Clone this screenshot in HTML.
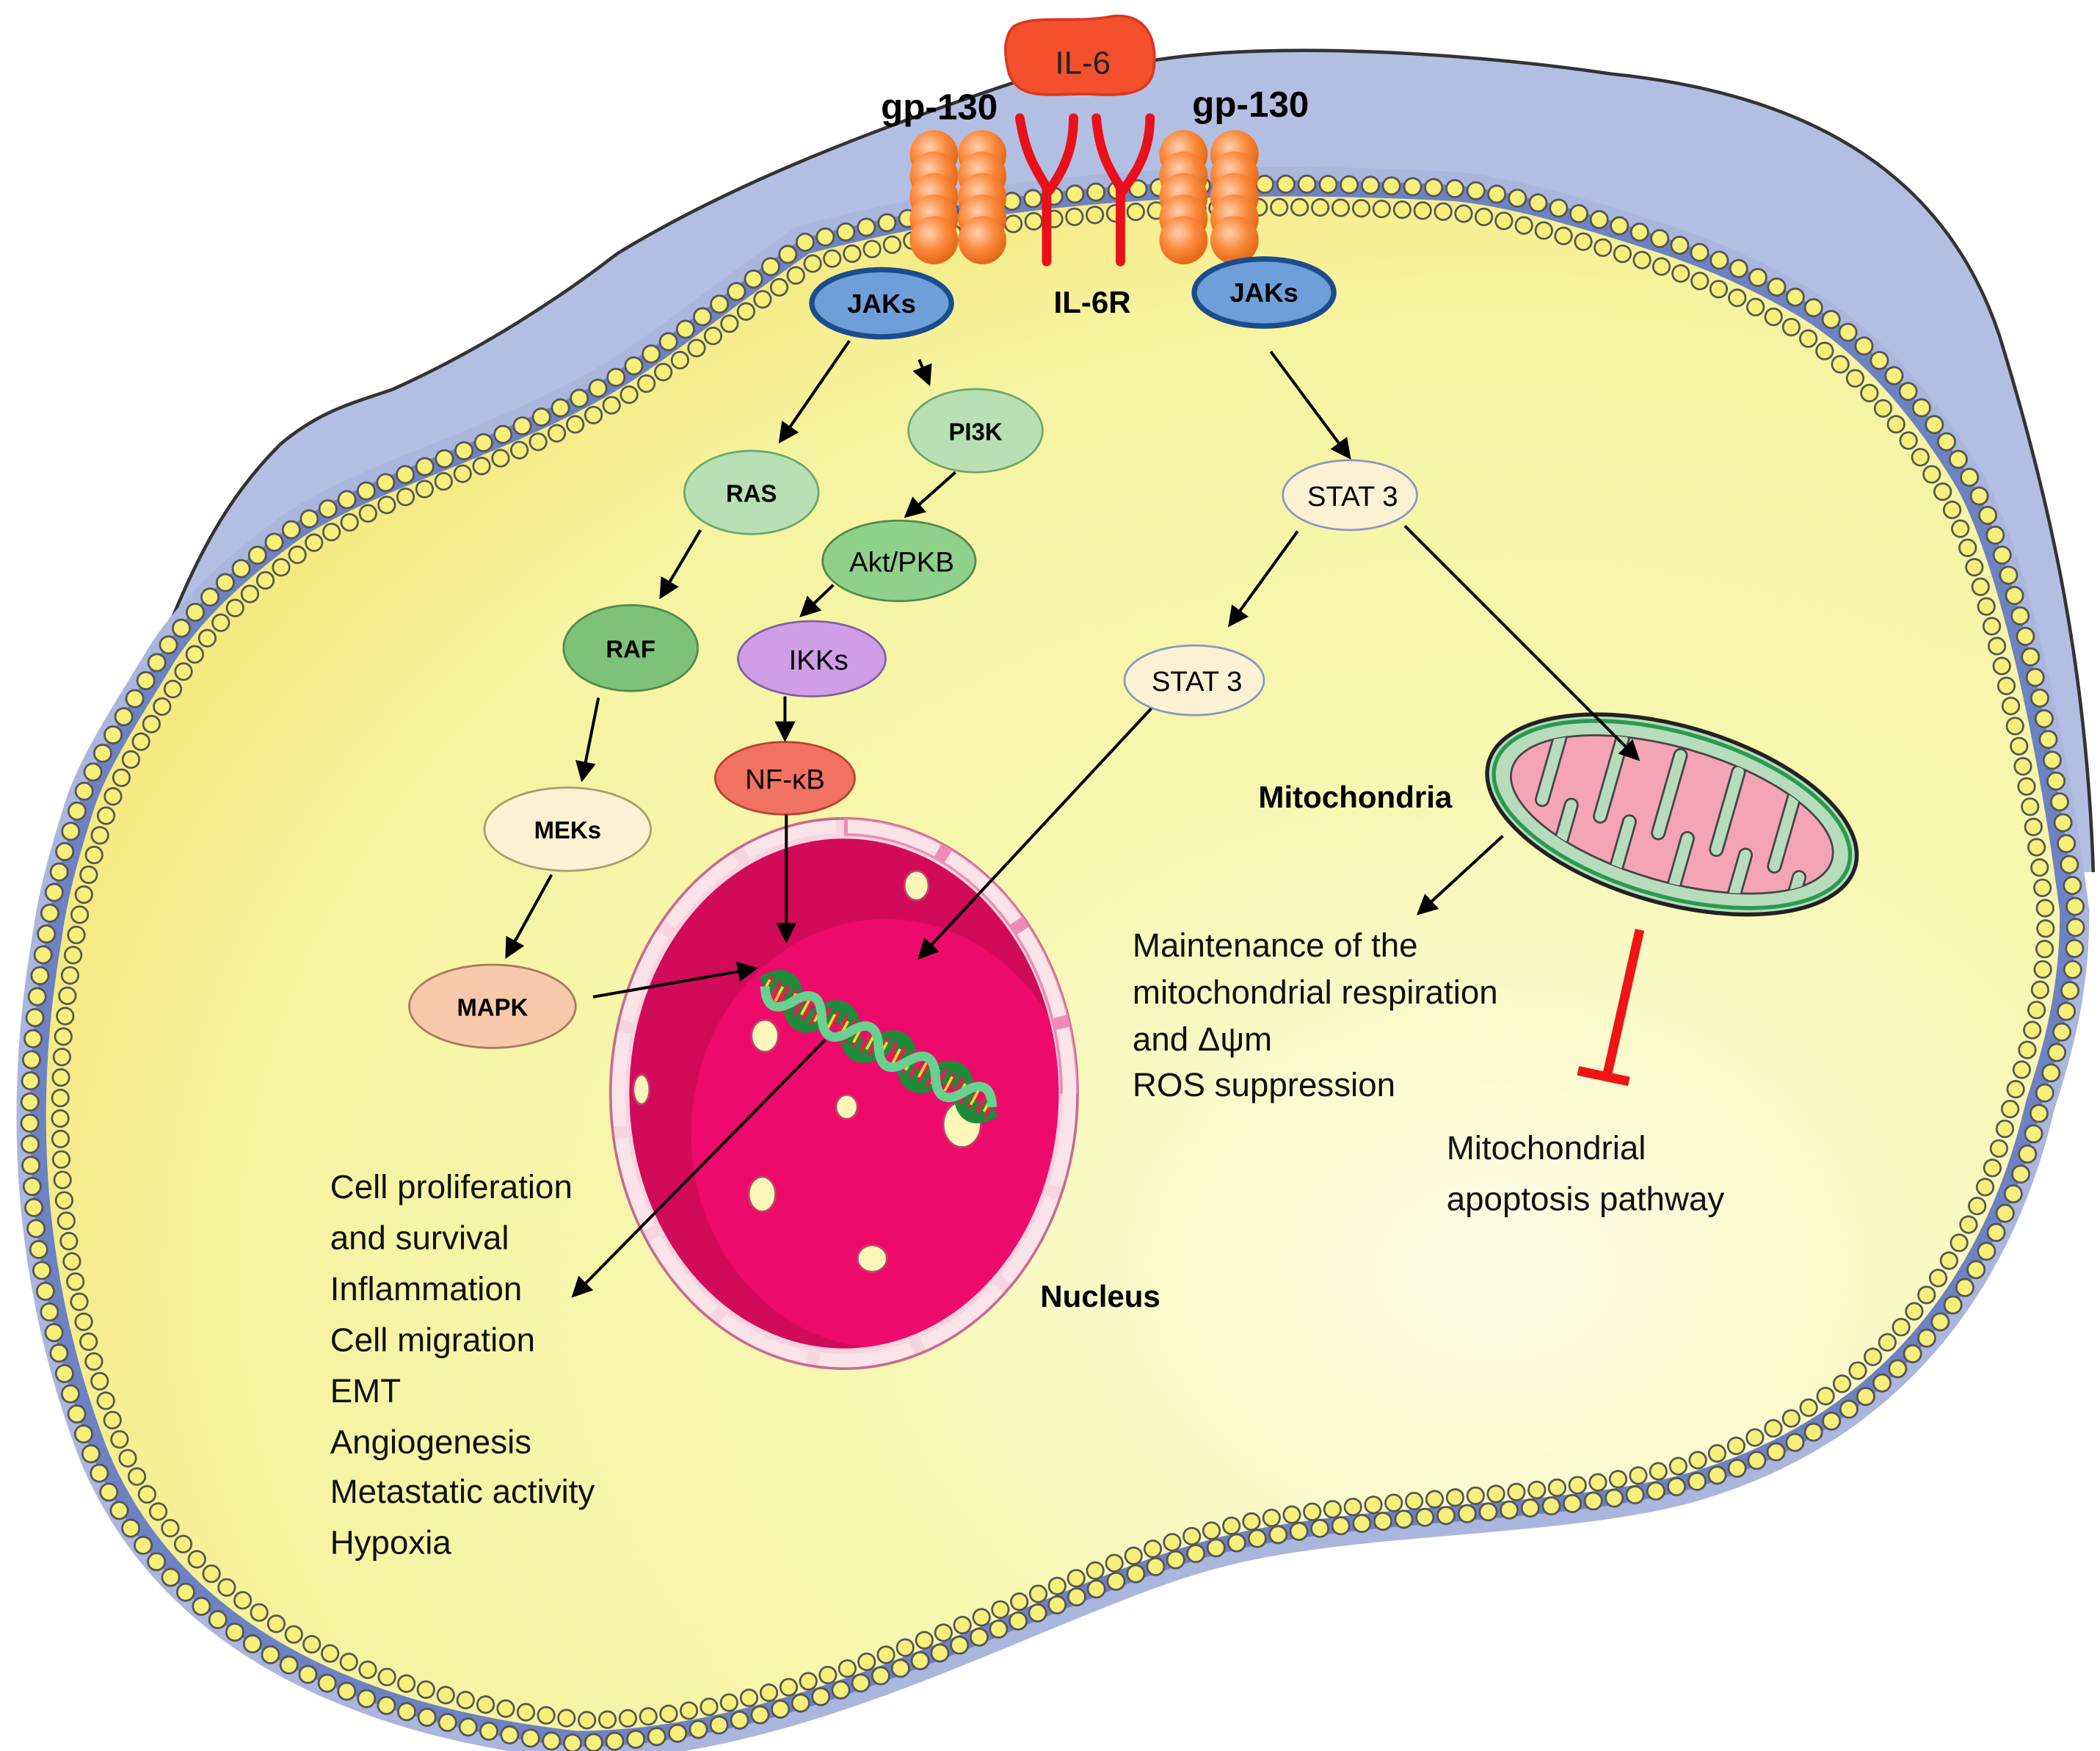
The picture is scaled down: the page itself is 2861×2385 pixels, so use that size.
<!DOCTYPE html>
<html><head><meta charset="utf-8"><style>
html,body{margin:0;padding:0;background:#fff;}
svg{display:block;}
text{font-family:"Liberation Sans",sans-serif;}
</style></head><body>
<svg width="2861" height="2385" viewBox="0 0 1565 1305" preserveAspectRatio="none" xmlns="http://www.w3.org/2000/svg">
<defs>
<radialGradient id="cyto" cx="0.72" cy="0.7" r="0.75">
<stop offset="0" stop-color="#fcfce6"/><stop offset="0.45" stop-color="#f7f7b0"/><stop offset="0.85" stop-color="#f6f3a0"/><stop offset="1" stop-color="#f4ea80"/></radialGradient>
<radialGradient id="orb" cx="0.4" cy="0.35" r="0.7"><stop offset="0" stop-color="#ffd0b0"/><stop offset="0.5" stop-color="#fb8a3c"/><stop offset="1" stop-color="#e0600f"/></radialGradient>
<marker id="ar" viewBox="0 0 10 10" refX="8" refY="5" markerWidth="7" markerHeight="7" orient="auto"><path d="M0,0 L10,5 L0,10 z" fill="#000"/></marker>
<path id="mem" d="M 603,189 C 530,240 490,275 444,300 C 360,345 280,365 226,400 C 170,440 140,475 126,500 C 95,550 80,575 71,600 C 58,640 50,670 46,700 C 25,820 30,950 80,1080 C 130,1200 250,1270 430,1290 C 600,1290 780,1180 900,1148 C 1000,1120 1150,1125 1250,1100 C 1400,1060 1480,950 1510,820 C 1530,760 1535,720 1535,680 C 1520,560 1490,420 1458,363 C 1420,300 1380,260 1341,236 C 1300,212 1270,200 1241,190 C 1180,170 1130,155 1085,150 C 900,140 750,150 603,189 Z"/>
<clipPath id="nucclip"><ellipse cx="629" cy="815" rx="160" ry="190"/></clipPath>
<clipPath id="mitclip"><ellipse cx="1246" cy="607" rx="124" ry="50"/></clipPath>
</defs>
<rect width="1565" height="1305" fill="#fff"/>
<path d="M 60,640 C 80,580 95,550 105,524 C 140,420 170,370 209,331 C 240,305 265,300 293,290 C 360,260 420,220 460,189 C 540,140 640,100 760,60 C 800,50 830,45 860,45 C 950,30 1100,40 1200,55 C 1350,70 1450,130 1490,250 C 1530,380 1555,500 1560,650 L 1300,650 L 300,650 Z" fill="#b3bfe2"/>
<path d="M 60,640 C 80,580 95,550 105,524 C 140,420 170,370 209,331 C 240,305 265,300 293,290 C 360,260 420,220 460,189 C 540,140 640,100 760,60 C 800,50 830,45 860,45 C 950,30 1100,40 1200,55 C 1350,70 1450,130 1490,250 C 1530,380 1555,500 1560,650" fill="none" stroke="#333" stroke-width="2.5"/>
<use href="#mem" fill="none" stroke="#aab6de" stroke-width="44"/>
<use href="#mem" fill="none" stroke="#6d82c2" stroke-width="24"/>
<use href="#mem" fill="url(#cyto)"/>
<g>
<use href="#mem" fill="none" stroke="#555" stroke-width="14" stroke-dasharray="0 15.5" stroke-linecap="round" transform="translate(790,720) scale(1.016) translate(-790,-720)"/>
<use href="#mem" fill="none" stroke="#f6ef7a" stroke-width="11" stroke-dasharray="0 15.5" stroke-linecap="round" transform="translate(790,720) scale(1.016) translate(-790,-720)"/>
<use href="#mem" fill="none" stroke="#555" stroke-width="14" stroke-dasharray="0 15.5" stroke-linecap="round" transform="translate(790,720) scale(0.986) translate(-790,-720)"/>
<use href="#mem" fill="none" stroke="#f6ef7a" stroke-width="11" stroke-dasharray="0 15.5" stroke-linecap="round" transform="translate(790,720) scale(0.986) translate(-790,-720)"/>
</g>
<g>
<g id="col"><circle cx="696" cy="115" r="18" fill="url(#orb)"/><circle cx="696" cy="131" r="18" fill="url(#orb)"/><circle cx="696" cy="147" r="18" fill="url(#orb)"/><circle cx="696" cy="163" r="18" fill="url(#orb)"/><circle cx="696" cy="179" r="18" fill="url(#orb)"/></g>
<use href="#col" x="36"/><use href="#col" x="186"/><use href="#col" x="224"/>
<path d="M760,88 C765,120 775,130 780,140 L780,195 M800,88 C800,115 790,130 782,142" fill="none" stroke="#e8101a" stroke-width="7" stroke-linecap="round"/>
<path d="M817,88 C820,120 830,130 835,140 L835,195 M857,88 C857,115 845,130 837,142" fill="none" stroke="#e8101a" stroke-width="7" stroke-linecap="round"/>
<path d="M755,20 C770,10 800,18 830,12 C855,10 862,30 860,50 C858,70 840,72 810,70 C780,70 760,75 752,55 C748,40 748,28 755,20 Z" fill="#f4502e" stroke="#d83820" stroke-width="2"/>
<text x="807" y="55" font-size="24" text-anchor="middle" fill="#222">IL-6</text>
<text x="700" y="89" font-size="27" font-weight="bold" text-anchor="middle">gp-130</text>
<text x="932" y="87" font-size="27" font-weight="bold" text-anchor="middle">gp-130</text>
<text x="814" y="233" font-size="23" font-weight="bold" text-anchor="middle">IL-6R</text>
</g>
<g font-size="20" text-anchor="middle">
<ellipse cx="657" cy="226" rx="52" ry="25" fill="#6f9fd8" stroke="#1c4c8c" stroke-width="4"/><text x="657" y="233" font-weight="bold">JAKs</text>
<ellipse cx="942" cy="218" rx="52" ry="25" fill="#6f9fd8" stroke="#1c4c8c" stroke-width="4"/><text x="942" y="225" font-weight="bold">JAKs</text>
<ellipse cx="727" cy="321" rx="50" ry="31" fill="#b8e0b4" stroke="#6aa868" stroke-width="1.5"/><text x="727" y="328" font-size="18" font-weight="bold">PI3K</text>
<ellipse cx="560" cy="367" rx="50" ry="31" fill="#b8e0b4" stroke="#6aa868" stroke-width="1.5"/><text x="560" y="374" font-size="18" font-weight="bold">RAS</text>
<ellipse cx="670" cy="418" rx="57" ry="30" fill="#8fd08a" stroke="#4f8a4c" stroke-width="1.5"/><text x="672" y="426" font-size="21">Akt/PKB</text>
<ellipse cx="470" cy="483" rx="50" ry="32" fill="#7dc278" stroke="#4f8a4c" stroke-width="1.5"/><text x="470" y="490" font-size="18" font-weight="bold">RAF</text>
<ellipse cx="605" cy="491" rx="55" ry="28" fill="#cf9ee6" stroke="#8060a0" stroke-width="1.5"/><text x="610" y="499" font-size="21">IKKs</text>
<ellipse cx="585" cy="580" rx="52" ry="27" fill="#f27262" stroke="#b84030" stroke-width="1.5"/><text x="585" y="588" font-size="21">NF-κB</text>
<ellipse cx="423" cy="618" rx="62" ry="31" fill="#fdf1d4" stroke="#a89c70" stroke-width="1.5"/><text x="423" y="625" font-size="18" font-weight="bold">MEKs</text>
<ellipse cx="367" cy="750" rx="62" ry="31" fill="#f8c8aa" stroke="#a87860" stroke-width="1.5"/><text x="367" y="757" font-size="18" font-weight="bold">MAPK</text>
<ellipse cx="1006" cy="369" rx="50" ry="26" fill="#fdf1d4" stroke="#8898c0" stroke-width="1.5"/><text x="1008" y="377" font-size="21">STAT 3</text>
<ellipse cx="890" cy="507" rx="52" ry="26" fill="#fdf1d4" stroke="#8898c0" stroke-width="1.5"/><text x="892" y="515" font-size="21">STAT 3</text>
</g>
<g>
<ellipse cx="629" cy="815" rx="174" ry="205" fill="#f8d4e0" stroke="#c86a90" stroke-width="2"/>
<path d="M629,610 A174,205 0 0,1 803,815 L790,815 A160,192 0 0,0 629,623 Z" fill="#ee8ab4"/>
<ellipse cx="629" cy="815" rx="168" ry="199" fill="none" stroke="#fbe3ea" stroke-width="10" stroke-dasharray="70 9"/>
<ellipse cx="629" cy="815" rx="160" ry="190" fill="#d20a5a"/>
<g clip-path="url(#nucclip)"><ellipse cx="660" cy="845" rx="145" ry="160" fill="#ee0a6a"/></g>
<ellipse cx="570" cy="772" rx="10" ry="12" fill="#fbf7b8" stroke="#c0406a" stroke-width="1.5"/>
<ellipse cx="683" cy="660" rx="9" ry="11" fill="#fbf7b8" stroke="#c0406a" stroke-width="1.5"/>
<ellipse cx="631" cy="825" rx="8" ry="9" fill="#fbf7b8" stroke="#c0406a" stroke-width="1.5"/>
<ellipse cx="717" cy="838" rx="14" ry="17" fill="#fbf7b8" stroke="#c0406a" stroke-width="1.5"/>
<ellipse cx="568" cy="890" rx="10" ry="13" fill="#fbf7b8" stroke="#c0406a" stroke-width="1.5"/>
<ellipse cx="650" cy="938" rx="11" ry="10" fill="#fbf7b8" stroke="#c0406a" stroke-width="1.5"/>
<ellipse cx="478" cy="812" rx="6" ry="11" fill="#fbf7b8" stroke="#c0406a" stroke-width="1.5"/>
<g transform="rotate(28 570 735)">
<path d="M570,735 q12,-20 24,0 t24,0 t24,0 t24,0 t24,0 t24,0 t24,0 t24,0" fill="none" stroke="#1e8a3a" stroke-width="16"/>
<path d="M570,735 h192" stroke="#e02050" stroke-width="18" stroke-dasharray="3 4"/>
<path d="M570,735 h192" stroke="#f0e020" stroke-width="12" stroke-dasharray="2 9"/>
<path d="M570,735 q12,20 24,0 t24,0 t24,0 t24,0 t24,0 t24,0 t24,0 t24,0" fill="none" stroke="#6ad090" stroke-width="7"/>
</g>
<text x="820" y="974" font-size="23" font-weight="bold" text-anchor="middle">Nucleus</text>
</g>
<g transform="rotate(16 1246 607)">
<ellipse cx="1246" cy="607" rx="142" ry="66" fill="#b6dcbc" stroke="#222" stroke-width="3"/>
<ellipse cx="1246" cy="607" rx="137" ry="61" fill="none" stroke="#2a9a50" stroke-width="3"/>
<ellipse cx="1246" cy="607" rx="124" ry="50" fill="#f4a4b2" stroke="#444" stroke-width="1.5"/>
<g clip-path="url(#mitclip)">
<path d="M1150,607 v-60 M1195,607 v-60 M1240,607 v-60 M1285,607 v-60 M1330,607 v-60 M1172,605 v60 M1217,605 v60 M1262,605 v60 M1307,605 v60 M1350,610 v60" stroke="#444" stroke-width="11" stroke-linecap="round" transform="translate(0,16)"/>
<path d="M1150,607 v-60 M1195,607 v-60 M1240,607 v-60 M1285,607 v-60 M1330,607 v-60 M1172,605 v60 M1217,605 v60 M1262,605 v60 M1307,605 v60 M1350,610 v60" stroke="#b6dcbc" stroke-width="8" stroke-linecap="round" transform="translate(0,16)"/>
</g>
</g>
<text x="1010" y="602" font-size="23" font-weight="bold" text-anchor="middle">Mitochondria</text>
<g stroke="#000" stroke-width="2.2" fill="none" marker-end="url(#ar)">
<line x1="633" y1="254" x2="582" y2="328"/>
<line x1="685" y1="268" x2="692" y2="285"/>
<line x1="712" y1="352" x2="676" y2="384"/>
<line x1="522" y1="395" x2="493" y2="444"/>
<line x1="621" y1="436" x2="598" y2="458"/>
<line x1="446" y1="520" x2="434" y2="580"/>
<line x1="585" y1="519" x2="585" y2="550"/>
<line x1="411" y1="652" x2="378" y2="712"/>
<line x1="586" y1="607" x2="586" y2="700"/>
<line x1="442" y1="743" x2="562" y2="722"/>
<line x1="947" y1="262" x2="1005" y2="340"/>
<line x1="967" y1="396" x2="917" y2="465"/>
<line x1="858" y1="528" x2="686" y2="713"/>
<line x1="1047" y1="392" x2="1220" y2="565"/>
<line x1="1120" y1="623" x2="1058" y2="680"/>
<line x1="615" y1="775" x2="428" y2="965"/>
</g>
<line x1="1222" y1="693" x2="1198" y2="800" stroke="#f01414" stroke-width="7"/>
<line x1="1176" y1="798" x2="1214" y2="806" stroke="#f01414" stroke-width="7"/>
<g font-size="25" fill="#111">
<text x="246" y="893">Cell proliferation</text>
<text x="246" y="931">and survival</text>
<text x="246" y="969">Inflammation</text>
<text x="246" y="1007">Cell migration</text>
<text x="246" y="1045">EMT</text>
<text x="246" y="1083">Angiogenesis</text>
<text x="246" y="1120">Metastatic activity</text>
<text x="246" y="1158">Hypoxia</text>
<text x="844" y="713">Maintenance of the</text>
<text x="844" y="748">mitochondrial respiration</text>
<text x="844" y="783">and Δψm</text>
<text x="844" y="817">ROS suppression</text>
<text x="1078" y="864">Mitochondrial</text>
<text x="1078" y="902">apoptosis pathway</text>
</g>
</svg>
</body></html>
